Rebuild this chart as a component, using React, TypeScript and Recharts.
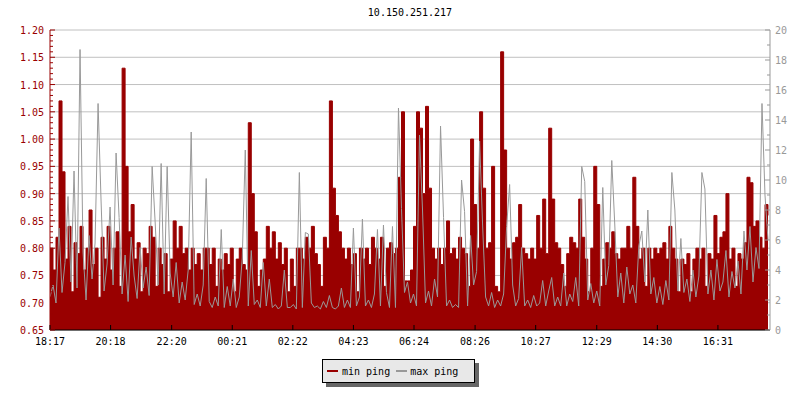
import React from 'react';
import { ComposedChart, Area, Line, XAxis, YAxis, CartesianGrid } from 'recharts';

const TITLE = '10.150.251.217';
const RED = '#990000';
const GRAY = '#999999';
const FONT = '"DejaVu Sans Mono", "Liberation Mono", monospace';
const SAMPLE_MINUTES = 6;

const timeTicks = [0, 121, 243, 364, 485, 606, 727, 849, 970, 1092, 1213, 1334];
const timeLabels = ['18:17', '20:18', '22:20', '00:21', '02:22', '04:23', '06:24', '08:26', '10:27', '12:29', '14:30', '16:31'];

// min ping, ms (left axis)
const minPing = [
  0.80, 0.76, 0.82, 1.07, 0.94, 0.78, 0.84, 0.72, 0.81, 0.79,
  0.84, 0.76, 0.80, 0.87, 0.77, 0.80, 0.71, 0.82, 0.78, 0.84,
  0.76, 0.80, 0.83, 0.73, 1.13, 0.95, 0.83, 0.88, 0.78, 0.81,
  0.72, 0.80, 0.79, 0.84, 0.82,
  0.73, 0.80, 0.77, 0.79, 0.72, 0.78, 0.85, 0.80, 0.84, 0.79,
  0.80, 0.76, 0.80, 0.77, 0.79, 0.76, 0.80, 0.80, 0.77, 0.80,
  0.73, 0.78, 0.76, 0.79, 0.77, 0.80, 0.72, 0.78, 0.80, 0.77,
  0.76, 1.03, 0.90, 0.83, 0.73,
  0.76, 0.78, 0.84, 0.80, 0.83, 0.78, 0.81, 0.77, 0.80, 0.72,
  0.78, 0.73, 0.80, 0.80, 0.78, 0.82, 0.80, 0.84, 0.79, 0.77,
  0.73, 0.82, 0.80, 1.07, 0.91, 0.86, 0.83, 0.80, 0.78, 0.80,
  0.77, 0.79, 0.72, 0.80, 0.78,
  0.80, 0.77, 0.82, 0.80, 0.78, 0.82, 0.73, 0.80, 0.81, 0.79,
  0.80, 0.93, 1.05, 0.74, 0.74, 0.76, 0.84, 1.05, 1.02, 0.90,
  1.06, 0.91, 0.80, 0.78, 0.80, 0.77, 0.80, 0.85, 0.79, 0.80,
  0.78, 0.82, 0.80, 0.79, 0.73,
  1.00, 0.88, 0.80, 1.05, 0.91, 0.80, 0.81, 0.95, 0.73, 0.72,
  1.16, 0.98, 0.80, 0.78, 0.81, 0.82, 0.88, 0.80, 0.79, 0.78,
  0.80, 0.78, 0.86, 0.80, 0.89, 0.79, 1.02, 0.89, 0.81, 0.80,
  0.77, 0.73, 0.79, 0.82, 0.81,
  0.80, 0.89, 0.82, 0.78, 0.72, 0.80, 0.95, 0.88, 0.73, 0.78,
  0.81, 0.80, 0.83, 0.79, 0.78, 0.80, 0.80, 0.84, 0.80, 0.93,
  0.84, 0.78, 0.80, 0.73, 0.80, 0.78, 0.80, 0.79, 0.80, 0.81,
  0.78, 0.84, 0.80, 0.78, 0.72,
  0.78, 0.77, 0.79, 0.72, 0.78, 0.80, 0.78, 0.80, 0.73, 0.79,
  0.78, 0.86, 0.79, 0.82, 0.83, 0.90, 0.78, 0.80, 0.73, 0.79,
  0.78, 0.81, 0.93, 0.92, 0.84, 0.85, 0.82, 0.80, 0.88, 0.86,
];

// max ping, ms (right axis)
const maxPing = [
  2.2, 3.0, 1.8, 6.8, 2.5, 4.5, 8.9, 3.2, 10.6, 2.8,
  18.7, 5.2, 2.0, 6.3, 3.4, 5.8, 15.1, 8.6, 2.6, 4.4,
  8.2, 3.0, 11.8, 7.5, 2.4, 5.0, 1.9, 6.2, 3.6, 2.1,
  5.5, 2.8, 4.2, 2.3, 10.9,
  7.2, 3.0, 11.1, 2.4, 10.9, 3.8, 2.2, 4.5, 1.8, 3.2,
  2.0, 4.0, 13.2, 1.7, 2.4, 1.6, 3.0, 10.1, 1.9, 1.5,
  2.2, 1.6, 6.7, 1.5, 2.9, 1.6, 3.4, 1.5, 2.2, 4.8,
  12.0, 1.6, 5.3, 1.7, 2.0,
  1.5, 4.5, 1.6, 3.4, 1.5, 1.7, 1.4, 1.6, 4.0, 1.5,
  1.5, 1.7, 1.4, 10.5, 1.5, 6.5, 6.4, 1.8, 1.5, 1.6,
  1.4, 1.9, 1.5, 2.3, 1.5, 1.4, 1.6, 2.8, 1.5, 2.0,
  1.5, 6.8, 1.6, 2.2, 7.4,
  1.6, 2.0, 1.5, 2.4, 6.7, 1.6, 7.0, 2.5, 1.5, 6.9,
  1.5, 14.8, 8.1, 2.5, 3.2, 1.8, 2.4, 1.6, 13.0, 8.0,
  1.8, 2.6, 1.6, 3.4, 2.2, 13.6, 7.5, 1.6, 2.0, 1.5,
  1.7, 1.5, 10.0, 7.9, 1.6,
  6.3, 3.0, 3.9, 12.6, 7.0, 2.2, 1.6, 2.5, 1.5, 2.0,
  1.6, 2.4, 6.9, 9.7, 3.0, 1.6, 2.1, 5.5, 1.6, 2.0,
  1.5, 2.3, 1.6, 1.8, 3.3, 1.6, 2.6, 3.5, 1.6, 2.2,
  1.6, 3.8, 1.6, 2.4, 1.9,
  3.5, 1.6, 10.9, 9.9, 2.0, 3.1, 1.8, 2.6, 1.6, 9.5,
  3.0, 4.3, 11.3, 7.0, 2.2, 3.8, 1.8, 4.2, 2.4, 3.0,
  1.8, 5.6, 6.6, 3.2, 8.0, 2.4, 3.5, 1.8, 2.9, 1.7,
  3.3, 2.0, 10.5, 8.0, 2.6,
  6.1, 2.5, 3.4, 1.9, 4.0, 2.2, 3.6, 10.5, 9.4, 2.4,
  4.0, 2.0, 4.7, 2.6, 3.2, 5.3, 2.2, 3.9, 2.8, 4.6,
  2.4, 6.6, 4.0, 6.9, 3.2, 5.5, 4.1, 15.1, 9.0, 6.0,
];

const leftDomain = [0.65, 1.2];
const leftMajor = [0.65, 0.7, 0.75, 0.8, 0.85, 0.9, 0.95, 1.0, 1.05, 1.1, 1.15, 1.2];
const leftTicks = Array.from({ length: 56 }, (_, k) => (65 + k) / 100);
const rightTicks = Array.from({ length: 21 }, (_, k) => k);

const data = minPing.map((v, i) => ({ t: i * SAMPLE_MINUTES, min: v, max: maxPing[i] }));

const LeftTick = (props: any) => {
  const { x, y, payload } = props;
  const v = Math.round(payload.value * 100);
  const major = v % 5 === 0;
  return (
    <g>
      <line x1={x} x2={x + (major ? 5 : 3)} y1={y} y2={y} stroke={RED} />
      {major && (
        <text x={x - 6} y={y + 4} textAnchor="end" fill={RED} fontSize={10} fontFamily={FONT}>
          {(v / 100).toFixed(2)}
        </text>
      )}
    </g>
  );
};

const RightTick = (props: any) => {
  const { x, y, payload } = props;
  const major = payload.value % 2 === 0;
  return (
    <g>
      <line x1={x} x2={x - (major ? 5 : 3)} y1={y} y2={y} stroke={GRAY} />
      {major && (
        <text x={x + 5} y={y + 4} textAnchor="start" fill={GRAY} fontSize={10} fontFamily={FONT}>
          {payload.value}
        </text>
      )}
    </g>
  );
};

const BottomTick = (props: any) => {
  const { x, y, payload } = props;
  const label = timeLabels[timeTicks.indexOf(payload.value)];
  return (
    <g>
      <line x1={x} x2={x} y1={y - 5} y2={y} stroke="#000" />
      <text x={x} y={y + 15} textAnchor="middle" fill="#000" fontSize={10} fontFamily={FONT}>
        {label}
      </text>
    </g>
  );
};

// horizontal grid at the labelled left-axis values only
const gridLines = ({ offset }: any) =>
  leftMajor.map(
    (v) => offset.top + (offset.height * (leftDomain[1] - v)) / (leftDomain[1] - leftDomain[0])
  );

export default function App() {
  return (
    <div style={{ position: 'absolute', left: 0, top: 0, width: 800, height: 400, background: '#fff' }}>
      <div
        style={{
          position: 'absolute', left: 310, top: 7, width: 200, textAlign: 'center',
          fontFamily: FONT, fontSize: 10, lineHeight: '12px', color: '#000',
        }}
      >
        {TITLE}
      </div>
      <ComposedChart width={800} height={400} data={data} margin={{ top: 30, right: 0, bottom: 50, left: 0 }}>
        <CartesianGrid
          yAxisId="left"
          vertical={false}
          stroke="#c0c0c0"
          horizontalCoordinatesGenerator={gridLines}
        />
        <XAxis
          type="number"
          dataKey="t"
          domain={[0, 1438]}
          ticks={timeTicks}
          interval={0}
          allowDataOverflow
          height={20}
          tickSize={0}
          tickMargin={0}
          tickLine={false}
          tick={<BottomTick />}
          axisLine={{ stroke: '#000' }}
        />
        <YAxis
          yAxisId="left"
          orientation="left"
          width={50}
          domain={leftDomain}
          allowDataOverflow
          ticks={leftTicks}
          interval={0}
          tickSize={0}
          tickMargin={0}
          tickLine={false}
          tick={<LeftTick />}
          axisLine={{ stroke: RED }}
        />
        <YAxis
          yAxisId="right"
          orientation="right"
          width={30}
          domain={[0, 20]}
          allowDataOverflow
          ticks={rightTicks}
          interval={0}
          tickSize={0}
          tickMargin={0}
          tickLine={false}
          tick={<RightTick />}
          axisLine={{ stroke: GRAY }}
        />
        <Area
          yAxisId="left"
          type="stepAfter"
          dataKey="min"
          stroke={RED}
          strokeWidth={1}
          fill={RED}
          fillOpacity={1}
          dot={false}
          activeDot={false}
          isAnimationActive={false}
        />
        <Line
          yAxisId="right"
          type="linear"
          dataKey="max"
          stroke={GRAY}
          strokeWidth={1}
          dot={false}
          activeDot={false}
          isAnimationActive={false}
        />
      </ComposedChart>
      <div
        style={{
          position: 'absolute', left: 322, top: 359, width: 151, height: 22,
          background: '#e8e8e8', border: '1px solid #000', boxShadow: '4px 4px 0 #666',
          display: 'flex', alignItems: 'center', fontFamily: FONT, fontSize: 10, color: '#000',
        }}
      >
        <span style={{ display: 'inline-block', width: 11, height: 2, background: RED, marginLeft: 4, marginRight: 4 }} />
        <span>min ping</span>
        <span style={{ display: 'inline-block', width: 11, height: 2, background: GRAY, marginLeft: 6, marginRight: 3 }} />
        <span>max ping</span>
      </div>
    </div>
  );
}
